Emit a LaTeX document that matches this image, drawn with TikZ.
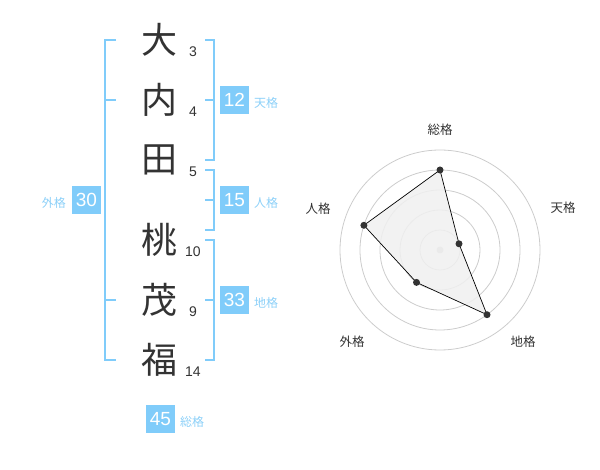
\documentclass[tikz,border=0pt]{standalone}
\usepackage{fontspec}
\newfontfamily\jp{Noto Sans CJK JP}
\newfontfamily\num{Liberation Sans}
\definecolor{ink}{RGB}{51,51,51}
\definecolor{bl}{RGB}{128,204,250}
\definecolor{bltxt}{RGB}{140,208,248}
\definecolor{ring}{RGB}{204,204,204}
\definecolor{fillg}{RGB}{240,240,240}
\begin{document}
\begin{tikzpicture}[x=1pt,y=-1pt,
  kanji/.style={font=\jp\fontsize{36}{36}\selectfont, text=ink, inner sep=0pt},
  strokes/.style={font=\num\fontsize{14}{14}\selectfont, text=ink, inner sep=0pt},
  bbox/.style={fill=bl, text=white, minimum width=29pt, minimum height=28pt, inner sep=0pt, font=\num\fontsize{19}{19}\selectfont},
  blabel/.style={font=\jp\fontsize{12}{12}\selectfont, text=bltxt, inner sep=0pt},
  bracket/.style={draw=bl, line width=1.5pt},
  rlabel/.style={font=\jp\fontsize{12.5}{12.5}\selectfont, text=ink, inner sep=0pt},
  dot/.style={circle, fill=ink, minimum size=7pt, inner sep=0pt}
]
\useasboundingbox (0,0) rectangle (600,470);
% kanji
\node[kanji] (k1) at (159,40) {大};
\node[kanji] (k2) at (159,100) {内};
\node[kanji] (k3) at (159,160) {田};
\node[kanji] (k4) at (159,240) {桃};
\node[kanji] (k5) at (159,300) {茂};
\node[kanji] (k6) at (159,360) {福};
% stroke counts
\node[strokes] (s1) at (193,52) {3};
\node[strokes] (s2) at (193,112) {4};
\node[strokes] (s3) at (193,172) {5};
\node[strokes] (s4) at (193,252) {10};
\node[strokes] (s5) at (193,312) {9};
\node[strokes] (s6) at (193,372) {14};
% brackets
\draw[bracket] (116,40) -- (105,40) -- (105,360) -- (116,360);
\draw[bracket] (105,100) -- (116,100);
\draw[bracket] (105,300) -- (116,300);
\draw[bracket] (205,40) -- (214,40) -- (214,160) -- (205,160);
\draw[bracket] (205,100) -- (214,100);
\draw[bracket] (205,170) -- (214,170) -- (214,230) -- (205,230);
\draw[bracket] (205,200) -- (214,200);
\draw[bracket] (205,240) -- (214,240) -- (214,360) -- (205,360);
\draw[bracket] (205,300) -- (214,300);
% boxes
\node[bbox] (b12) at (234.5,100) {12};
\node[blabel, anchor=west] (l12) at (254,103) {天格};
\node[bbox] (b15) at (234.5,200) {15};
\node[blabel, anchor=west] (l15) at (254,203) {人格};
\node[bbox] (b30) at (86.5,200) {30};
\node[blabel, anchor=east] (l30) at (66,203) {外格};
\node[bbox] (b33) at (234.5,300) {33};
\node[blabel, anchor=west] (l33) at (254,303) {地格};
\node[bbox] (b45) at (160.5,419) {45};
\node[blabel, anchor=west] (l45) at (180,422) {総格};
% radar
\coordinate (c) at (440,250);
\foreach \r in {20,40,60,80,100} \draw[ring, line width=0.8pt] (c) circle[radius=\r];
\fill[ring] (c) circle[radius=3.5];
\coordinate (p1) at (440,170);
\coordinate (p2) at (459.0,243.8);
\coordinate (p3) at (487.0,314.7);
\coordinate (p4) at (416.5,282.4);
\coordinate (p5) at (363.9,225.3);
\fill[fillg, opacity=0.85] (p1) -- (p2) -- (p3) -- (p4) -- (p5) -- cycle;
\draw[black, line width=0.7pt] (p1) -- (p2) -- (p3) -- (p4) -- (p5) -- cycle;
\foreach \p in {p1,p2,p3,p4,p5} \node[dot] (d\p) at (\p) {};
\node[rlabel] (r1) at (440,130) {総格};
\node[rlabel] (r2) at (563,208) {天格};
\node[rlabel] (r3) at (318,209) {人格};
\node[rlabel] (r4) at (352,342) {外格};
\node[rlabel] (r5) at (523,342) {地格};
\end{tikzpicture}
\end{document}
